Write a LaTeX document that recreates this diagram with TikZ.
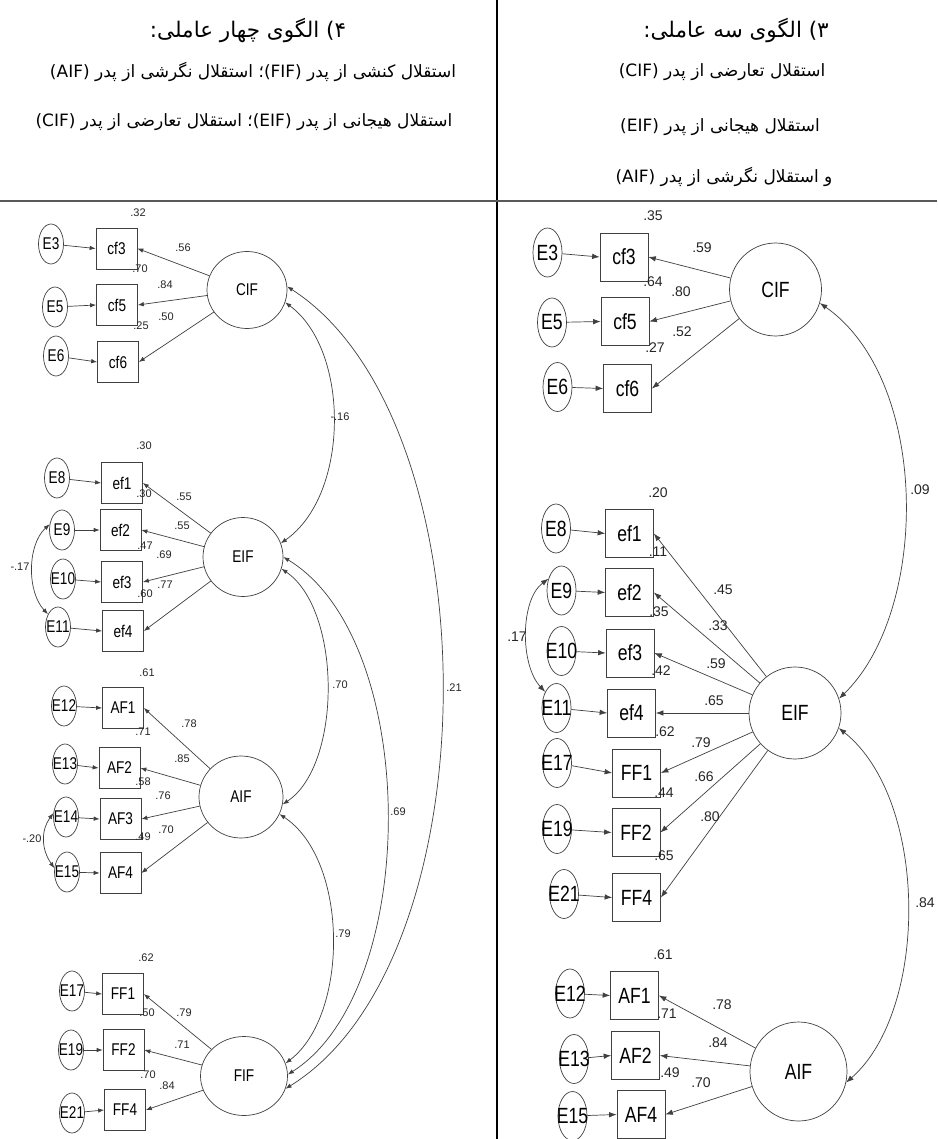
\documentclass[tikz,border=0pt]{standalone}
\usepackage{fontspec}
\setmainfont{Liberation Sans}
\newfontfamily\fa[Script=Arabic]{DejaVu Sans}
\newfontfamily\lab[FakeStretch=0.8]{Liberation Sans}
\TeXXeTstate=1
\usetikzlibrary{shapes.geometric,arrows.meta}
\newcommand\Lf{\lab\fontsize{17}{17}\selectfont}
\newcommand\Rf{\lab\fontsize{22}{22}\selectfont}
\begin{document}
\begin{tikzpicture}[x=1pt,y=-1pt,
  ln/.style={draw=black!75, line width=0.7pt},
  arrL/.style={ln, -{Latex[length=6pt,width=4.5pt]}},
  covL/.style={ln, {Latex[length=6pt,width=4.5pt]}-{Latex[length=6pt,width=4.5pt]}},
  arrR/.style={ln, -{Latex[length=7.5pt,width=5.5pt]}},
  covR/.style={ln, {Latex[length=7.5pt,width=5.5pt]}-{Latex[length=7.5pt,width=5.5pt]}},
  latL/.style={ellipse, ln, inner sep=0pt, font=\Lf},
  obsL/.style={rectangle, ln, minimum size=41pt, inner sep=0pt, font=\Lf},
  errL/.style={ellipse, ln, minimum width=25pt, minimum height=40pt, inner sep=0pt,
    label={[font=\Lf, inner sep=0pt]center:#1}},
  latR/.style={ellipse, ln, inner sep=0pt, font=\Rf},
  obsR/.style={rectangle, ln, minimum size=48pt, inner sep=0pt, font=\Rf},
  errR/.style={ellipse, ln, minimum width=29pt, minimum height=49pt, inner sep=0pt,
    label={[font=\Rf, inner sep=0pt]center:#1}},
  cL/.style={font=\fontsize{11}{11}\selectfont, text=black!85, inner sep=0pt},
  cR/.style={font=\fontsize{14}{14}\selectfont, text=black!85, inner sep=0pt},
  hdT/.style={font=\fa\fontsize{21.5}{24}\selectfont, inner sep=0pt},
  hdL/.style={font=\fa\fontsize{17}{20}\selectfont, inner sep=0pt}
]
\useasboundingbox (0,0) rectangle (937,1139);
\fill[white] (0,0) rectangle (937,1139);

% frame
\coordinate (vtop) at (497,0);
\coordinate (vbot) at (497,1139);
\coordinate (hl) at (0,201);
\coordinate (hr) at (937,201);
\draw[black, line width=1.2pt] (vtop) -- (vbot);
\draw[black!65, line width=2pt] (hl) -- (hr);

% headers
\node[hdT] (h1) at (248,30) {\beginR ۴) الگوی چهار عاملی:\endR};
\node[hdL] (h2) at (253,72) {\beginR استقلال کنشی از پدر \beginL(FIF)\endL؛ استقلال نگرشی از پدر \beginL(AIF)\endL\endR};
\node[hdL] (h3) at (244,122) {\beginR استقلال هیجانی از پدر \beginL(EIF)\endL؛ استقلال تعارضی از پدر \beginL(CIF)\endL\endR};
\node[hdT] (h4) at (736,30) {\beginR ۳) الگوی سه عاملی:\endR};
\node[hdL] (h5) at (722,72) {\beginR استقلال تعارضی از پدر \beginL(CIF)\endL\endR};
\node[hdL] (h6) at (720,127) {\beginR استقلال هیجانی از پدر \beginL(EIF)\endL\endR};
\node[hdL] (h7) at (724,177) {\beginR و استقلال نگرشی از پدر \beginL(AIF)\endL\endR};

% ================= LEFT (four-factor) =================
\node[latL, minimum width=80pt, minimum height=77pt] (LCIF) at (247,290) {CIF};
\node[latL, minimum width=80pt, minimum height=79pt] (LEIF) at (243,557) {EIF};
\node[latL, minimum width=84pt, minimum height=82pt] (LAIF) at (241,797) {AIF};
\node[latL, minimum width=87pt, minimum height=79pt] (LFIF) at (244,1076) {FIF};

\node[obsL] (Lcf3) at (116.5,248.5) {cf3};
\node[obsL] (Lcf5) at (117,305) {cf5};
\node[obsL] (Lcf6) at (118,362) {cf6};
\node[obsL] (Lef1) at (122,483) {ef1};
\node[obsL] (Lef2) at (120.5,530) {ef2};
\node[obsL] (Lef3) at (122,582) {ef3};
\node[obsL] (Lef4) at (123,631) {ef4};
\node[obsL] (LAF1) at (123,708) {AF1};
\node[obsL] (LAF2) at (119.5,768) {AF2};
\node[obsL] (LAF3) at (120.5,819) {AF3};
\node[obsL] (LAF4) at (120.5,873) {AF4};
\node[obsL] (LFF1) at (123,994) {FF1};
\node[obsL] (LFF2) at (123.5,1050) {FF2};
\node[obsL] (LFF4) at (125,1110) {FF4};

\node[errL=E3] (LE3) at (51,244) {};
\node[errL=E5] (LE5) at (55,307) {};
\node[errL=E6] (LE6) at (56,356) {};
\node[errL=E8] (LE8) at (57,478) {};
\node[errL=E9] (LE9) at (62,530) {};
\node[errL=E10] (LE10) at (63,579) {};
\node[errL=E11] (LE11) at (58,627) {};
\node[errL=E12] (LE12) at (64,706) {};
\node[errL=E13] (LE13) at (65,764) {};
\node[errL=E14] (LE14) at (66,817) {};
\node[errL=E15] (LE15) at (67,872) {};
\node[errL=E17] (LE17) at (72,991) {};
\node[errL=E19] (LE19) at (71,1050) {};
\node[errL=E21] (LE21) at (72,1113) {};

\foreach \e/\b in {LE3/Lcf3,LE5/Lcf5,LE6/Lcf6,LE8/Lef1,LE9/Lef2,LE10/Lef3,LE11/Lef4,
  LE12/LAF1,LE13/LAF2,LE14/LAF3,LE15/LAF4,LE17/LFF1,LE19/LFF2,LE21/LFF4}
  \draw[arrL] (\e) -- (\b.west);
\foreach \b in {Lcf3,Lcf5,Lcf6} \draw[arrL] (LCIF) -- (\b.east);
\foreach \b in {Lef1,Lef2,Lef3,Lef4} \draw[arrL] (LEIF) -- (\b.east);
\foreach \b in {LAF1,LAF2,LAF3,LAF4} \draw[arrL] (LAIF) -- (\b.east);
\foreach \b in {LFF1,LFF2,LFF4} \draw[arrL] (LFIF) -- (\b.east);

\draw[covL] (LCIF.-18) .. controls (350,350) and (350,495) .. (LEIF.20);
\draw[covL] (LEIF.-17) .. controls (342,610) and (342,765) .. (LAIF.-10);
\draw[covL] (LEIF.0) .. controls (421,640) and (421,990) .. (LFIF.2);
\draw[covL] (LCIF.5) .. controls (494,420) and (494,960) .. (LFIF.-17);
\draw[covL] (LAIF.-24) .. controls (349,860) and (349,1015) .. (LFIF.17);
\draw[covL] (LE9.155) .. controls (27,545) and (27,592) .. (LE11.128);
\draw[covL] (LE14.163) .. controls (41,830) and (41,849) .. (LE15.163);

\node[cL] (l1) at (138,213) {.32};
\node[cL] (l2) at (183,248) {.56};
\node[cL] (l3) at (140,269) {.70};
\node[cL] (l4) at (165,285) {.84};
\node[cL] (l5) at (166,317) {.50};
\node[cL] (l6) at (141,326) {.25};
\node[cL] (l7) at (340,417) {-.16};
\node[cL] (l8) at (144,446) {.30};
\node[cL] (l9) at (144,494) {.30};
\node[cL] (l10) at (184,497) {.55};
\node[cL] (l11) at (182,526) {.55};
\node[cL] (l12) at (145,546) {.47};
\node[cL] (l13) at (164,555) {.69};
\node[cL] (l14) at (165,585) {.77};
\node[cL] (l15) at (145,594) {.60};
\node[cL] (l16) at (20,567) {-.17};
\node[cL] (l17) at (147,673) {.61};
\node[cL] (l18) at (189,724) {.78};
\node[cL] (l19) at (143,732) {.71};
\node[cL] (l20) at (182,759) {.85};
\node[cL] (l21) at (143,782) {.58};
\node[cL] (l22) at (163,796) {.76};
\node[cL] (l23) at (166,830) {.70};
\node[cL] (l24) at (143,837) {.49};
\node[cL] (l25) at (32,839) {-.20};
\node[cL] (l26) at (340,685) {.70};
\node[cL] (l27) at (454,688) {.21};
\node[cL] (l28) at (398,812) {.69};
\node[cL] (l29) at (146,958) {.62};
\node[cL] (l30) at (184,1013) {.79};
\node[cL] (l31) at (147,1013) {.50};
\node[cL] (l32) at (182,1045) {.71};
\node[cL] (l33) at (148,1075) {.70};
\node[cL] (l34) at (167,1086) {.84};
\node[cL] (l35) at (343,934) {.79};

% ================= RIGHT (three-factor) =================
\node[latR, minimum width=92pt, minimum height=93pt] (RCIF) at (775.5,289.5) {CIF};
\node[latR, minimum width=92pt, minimum height=92pt] (REIF) at (795,713) {EIF};
\node[latR, minimum width=97pt, minimum height=99pt] (RAIF) at (798.5,1071.5) {AIF};

\node[obsR] (Rcf3) at (624,257) {cf3};
\node[obsR] (Rcf5) at (625,321.5) {cf5};
\node[obsR] (Rcf6) at (627.5,388.5) {cf6};
\node[obsR] (Ref1) at (629.5,533.5) {ef1};
\node[obsR] (Ref2) at (629.5,592.5) {ef2};
\node[obsR] (Ref3) at (630,653) {ef3};
\node[obsR] (Ref4) at (631.5,713) {ef4};
\node[obsR] (RFF1) at (636.5,773) {FF1};
\node[obsR] (RFF2) at (636,832.5) {FF2};
\node[obsR] (RFF4) at (636.5,897.5) {FF4};
\node[obsR] (RAF1) at (634.5,995.5) {AF1};
\node[obsR] (RAF2) at (635.5,1055.5) {AF2};
\node[obsR] (RAF4) at (641,1114.5) {AF4};

\node[errR=E3] (RE3) at (547.5,252.5) {};
\node[errR=E5] (RE5) at (552,322.5) {};
\node[errR=E6] (RE6) at (557.5,387) {};
\node[errR=E8] (RE8) at (556,528.5) {};
\node[errR=E9] (RE9) at (561.5,590.5) {};
\node[errR=E10] (RE10) at (561.5,651) {};
\node[errR=E11] (RE11) at (556.5,708) {};
\node[errR=E17] (RE17) at (557,763) {};
\node[errR=E19] (RE19) at (557,829) {};
\node[errR=E21] (RE21) at (564,894) {};
\node[errR=E12] (RE12) at (570,993.5) {};
\node[errR=E13] (RE13) at (574,1059) {};
\node[errR=E15] (RE15) at (572.5,1116) {};

\foreach \e/\b in {RE3/Rcf3,RE5/Rcf5,RE6/Rcf6,RE8/Ref1,RE9/Ref2,RE10/Ref3,RE11/Ref4,
  RE17/RFF1,RE19/RFF2,RE21/RFF4,RE12/RAF1,RE13/RAF2,RE15/RAF4}
  \draw[arrR] (\e) -- (\b.west);
\foreach \b in {Rcf3,Rcf5,Rcf6} \draw[arrR] (RCIF) -- (\b.east);
\foreach \b in {Ref1,Ref2,Ref3,Ref4,RFF1,RFF2,RFF4} \draw[arrR] (REIF) -- (\b.east);
\foreach \b in {RAF1,RAF2,RAF4} \draw[arrR] (RAIF) -- (\b.east);

\draw[covR] (RCIF.-17) .. controls (930,380) and (930,610) .. (REIF.18);
\draw[covR] (REIF.-19) .. controls (929,800) and (929,1010) .. (RAIF.-13);
\draw[covR] (RE9.138) .. controls (520,600) and (520,665) .. (RE11.125);

\node[cR] (r1) at (653,216) {.35};
\node[cR] (r2) at (702,248) {.59};
\node[cR] (r3) at (653,282) {.64};
\node[cR] (r4) at (681,292) {.80};
\node[cR] (r5) at (682,332) {.52};
\node[cR] (r6) at (655,348) {.27};
\node[cR] (r7) at (658,493) {.20};
\node[cR] (r8) at (658,552) {.11};
\node[cR] (r9) at (723,590) {.45};
\node[cR] (r10) at (718,626) {.33};
\node[cR] (r11) at (659,612) {.35};
\node[cR] (r12) at (716,664) {.59};
\node[cR] (r13) at (661,671) {.42};
\node[cR] (r14) at (714,701) {.65};
\node[cR] (r15) at (517,637) {.17};
\node[cR] (r16) at (665,732) {.62};
\node[cR] (r17) at (920,490) {.09};
\node[cR] (r18) at (701,743) {.79};
\node[cR] (r19) at (704,777) {.66};
\node[cR] (r20) at (664,793) {.44};
\node[cR] (r21) at (710,817) {.80};
\node[cR] (r22) at (664,856) {.65};
\node[cR] (r23) at (925,903) {.84};
\node[cR] (r24) at (663,955) {.61};
\node[cR] (r25) at (722,1005) {.78};
\node[cR] (r26) at (667,1014) {.71};
\node[cR] (r27) at (718,1043) {.84};
\node[cR] (r28) at (670,1073) {.49};
\node[cR] (r29) at (701,1083) {.70};
\end{tikzpicture}
\end{document}
